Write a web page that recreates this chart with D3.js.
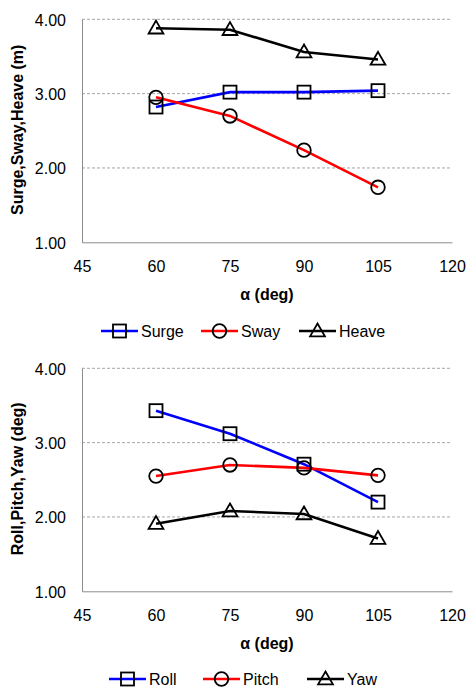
<!DOCTYPE html>
<html>
<head>
<meta charset="utf-8">
<script src="https://cdn.jsdelivr.net/npm/d3@7"></script>
<style>
body { margin: 0; background: #fff; }
svg { display: block; font-family: "Liberation Sans", Arial, sans-serif; }
</style>
</head>
<body>
<svg id="chart" width="470" height="688"></svg>
<script>
// angle values on the x axis
var angles = [60, 75, 90, 105];
var xTicks = [45, 60, 75, 90, 105, 120];
var yTicks = [1, 2, 3, 4];

// top chart (m)
var surge = [2.82, 3.02, 3.02, 3.04];
var sway = [2.95, 2.70, 2.24, 1.74];
var heave = [3.88, 3.86, 3.56, 3.46];

// bottom chart (deg)
var roll = [3.43, 3.12, 2.71, 2.20];
var pitch = [2.55, 2.70, 2.66, 2.56];
var yaw = [1.91, 2.08, 2.04, 1.71];

var topSeries = [
    { name: 'Surge', values: surge, color: '#0000ff', marker: 'square' },
    { name: 'Sway', values: sway, color: '#ff0000', marker: 'circle' },
    { name: 'Heave', values: heave, color: '#000000', marker: 'triangle' }
];
var bottomSeries = [
    { name: 'Roll', values: roll, color: '#0000ff', marker: 'square' },
    { name: 'Pitch', values: pitch, color: '#ff0000', marker: 'circle' },
    { name: 'Yaw', values: yaw, color: '#000000', marker: 'triangle' }
];

const svg = d3.select('#chart');

function drawMarker(g, type, x, y) {
    if (type == 'square') {
        g.append('rect').attr('x', x - 6.5).attr('y', y - 6.5)
            .attr('width', 13).attr('height', 13)
            .attr('fill', 'none').attr('stroke', '#000').attr('stroke-width', 1.8);
    } else if (type == 'circle') {
        g.append('circle').attr('cx', x).attr('cy', y).attr('r', 6.8)
            .attr('fill', 'none').attr('stroke', '#000').attr('stroke-width', 1.8);
    } else {
        g.append('path')
            .attr('d', d3.symbol().type(d3.symbolTriangle).size(95)())
            .attr('transform', `translate(${x},${y + 1})`)
            .attr('fill', 'none').attr('stroke', '#000').attr('stroke-width', 1.8);
    }
}

function drawChart(top, series, yTitle, legendY, legendXs) {
    const left = 82, right = 452, plotTop = top, plotBottom = top + 223;

    const x = d3.scaleLinear().domain([45, 120]).range([left, right]);
    const y = d3.scaleLinear().domain([1, 4]).range([plotBottom, plotTop]);

    const g = svg.append('g');

    // dashed gridlines
    g.selectAll('.grid')
        .data(yTicks.filter(d => d > 1))
        .enter()
        .append('line')
        .attr('x1', left).attr('x2', right)
        .attr('y1', d => y(d)).attr('y2', d => y(d))
        .attr('stroke', '#a6a6a6')
        .attr('stroke-dasharray', '3,2')
        .attr('stroke-width', 1);

    // axes without ticks
    const yAxis = g.append('g')
        .attr('transform', `translate(${left},0)`)
        .call(d3.axisLeft(y).tickValues(yTicks).tickSize(0).tickPadding(16).tickFormat(d3.format('.2f')));
    const xAxis = g.append('g')
        .attr('transform', `translate(0,${plotBottom})`)
        .call(d3.axisBottom(x).tickValues(xTicks).tickSize(0).tickPadding(18));
    [xAxis, yAxis].forEach(a => {
        a.select('.domain').attr('stroke', '#8c8c8c');
        a.selectAll('text').attr('font-size', 16).attr('fill', '#000')
            .attr('font-family', '"Liberation Sans", Arial, sans-serif');
    });
    yAxis.selectAll('text').attr('dy', '0.36em');

    // axis titles
    g.append('text')
        .attr('x', 267).attr('y', plotBottom + 58)
        .attr('text-anchor', 'middle')
        .attr('font-size', 16).attr('font-weight', 'bold')
        .text('α (deg)');
    g.append('text')
        .attr('transform', `translate(23,${(plotTop + plotBottom) / 2 - 1}) rotate(-90)`)
        .attr('text-anchor', 'middle')
        .attr('font-size', 16).attr('font-weight', 'bold')
        .text(yTitle);

    const line = d3.line()
        .x((d, i) => x(angles[i]))
        .y(d => y(d));

    series.forEach(s => {
        g.append('path')
            .datum(s.values)
            .attr('d', line)
            .attr('fill', 'none')
            .attr('stroke', s.color)
            .attr('stroke-width', 2.6);
    });
    series.forEach(s => {
        s.values.forEach((v, i) => drawMarker(g, s.marker, x(angles[i]), y(v)));
    });

    // legend
    series.forEach((s, i) => {
        const lx = legendXs[i];
        g.append('line')
            .attr('x1', lx).attr('x2', lx + 37)
            .attr('y1', legendY).attr('y2', legendY)
            .attr('stroke', s.color).attr('stroke-width', 2.6);
        drawMarker(g, s.marker, lx + 18.5, legendY);
        g.append('text')
            .attr('x', lx + 40).attr('y', legendY + 6)
            .attr('font-size', 16)
            .text(s.name);
    });
}

drawChart(19.3, topSeries, 'Surge,Sway,Heave (m)', 331, [101, 201, 299]);
drawChart(368.3, bottomSeries, 'Roll,Pitch,Yaw (deg)', 679, [109, 203, 307]);
</script>
</body>
</html>
